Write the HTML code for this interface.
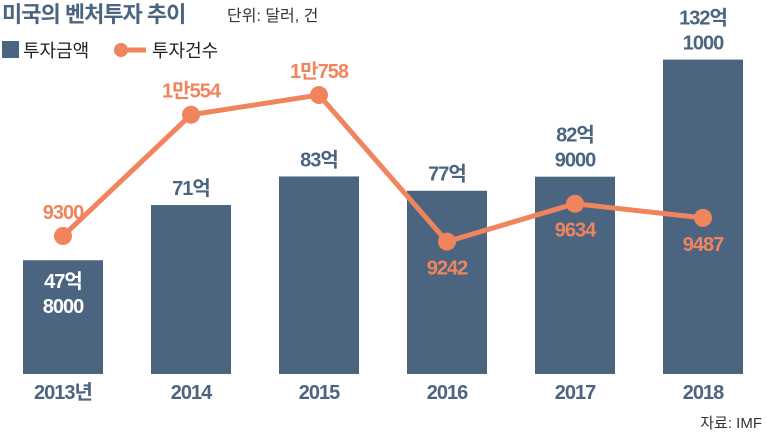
<!DOCTYPE html>
<html><head><meta charset="utf-8"><style>
body{margin:0;background:#fff;width:767px;height:435px;overflow:hidden}
svg text{font-family:"Liberation Sans","Noto Sans CJK KR",sans-serif}
</style></head><body>
<svg id="chart" width="767" height="435" viewBox="0 0 767 435">
<text x="2" y="22" font-size="22" font-weight="bold" fill="#4b6581" letter-spacing="-1">미국의 벤처투자 추이</text>
<text x="227" y="21" font-size="16" fill="#333">단위: 달러, 건</text>
<rect x="2" y="41" width="17" height="17" fill="#4b6581"/>
<text x="23" y="57" font-size="18" fill="#222">투자금액</text>
<line x1="120" y1="50" x2="146" y2="50" stroke="#f0845c" stroke-width="5"/>
<circle cx="121" cy="50" r="7" fill="#f0845c"/>
<text x="152" y="57" font-size="18" fill="#222">투자건수</text>
<text x="762" y="428" font-size="15" fill="#333" text-anchor="end">자료: IMF</text>
<g id="bars"></g><g id="line"></g><g id="labels"></g>
</svg>
<script>
const years=["2013년","2014","2015","2016","2017","2018"];
const amounts=[47.8,71,83,77,82.9,132.1];
const amountLabels=[["47억","8000"],["71억"],["83억"],["77억"],["82억","9000"],["132억","1000"]];
const counts=[9300,10554,10758,9242,9634,9487];
const countLabels=["9300","1만554","1만758","9242","9634","9487"];
const countBelow=[false,false,false,true,true,true];
const NS="http://www.w3.org/2000/svg";
const xC=i=>63+i*128;
const base=374;
const yBar=v=>base-v*2.38;
const yLine=v=>236-(v-9300)*0.0967;
function mk(t,a,p){const e=document.createElementNS(NS,t);for(const k in a)e.setAttribute(k,a[k]);p.appendChild(e);return e;}
const gb=document.getElementById('bars'),gl=document.getElementById('line'),gt=document.getElementById('labels');
amounts.forEach((v,i)=>{
 const r=mk('rect',{x:xC(i)-40,y:yBar(v),width:80,height:base-yBar(v),fill:'#4b6581'},gb);
 
 
 const inside=i===0;
 amountLabels[i].forEach((s,j)=>{
  const n=amountLabels[i].length;
  const y=inside?yBar(v)+28+j*25:yBar(v)-10-(n-1-j)*25;
  const t=mk('text',{x:xC(i),y:y,'font-size':20,'font-weight':'bold','text-anchor':'middle',fill:inside?'#fff':'#4b6581','letter-spacing':'-1'},gt);
  t.textContent=s;
  
  
 });
 const yl=mk('text',{x:xC(i),y:399,'font-size':20,'font-weight':'bold','text-anchor':'middle',fill:'#4b6581','letter-spacing':'-1'},gt);
 yl.textContent=years[i];
 
 
});
const pl=mk('polyline',{points:counts.map((v,i)=>xC(i)+','+yLine(v)).join(' '),fill:'none',stroke:'#f0845c','stroke-width':5,'stroke-linejoin':'round'},gl);


counts.forEach((v,i)=>{
 const c=mk('circle',{cx:xC(i),cy:yLine(v),r:9,fill:'#f0845c'},gl);
 
 
 const t=mk('text',{x:xC(i),y:countBelow[i]?yLine(v)+33:yLine(v)-17,'font-size':20,'font-weight':'bold','text-anchor':'middle',fill:'#f0845c','letter-spacing':'-1'},gt);
 t.textContent=countLabels[i];
 
 
});
</script>
</body></html>
